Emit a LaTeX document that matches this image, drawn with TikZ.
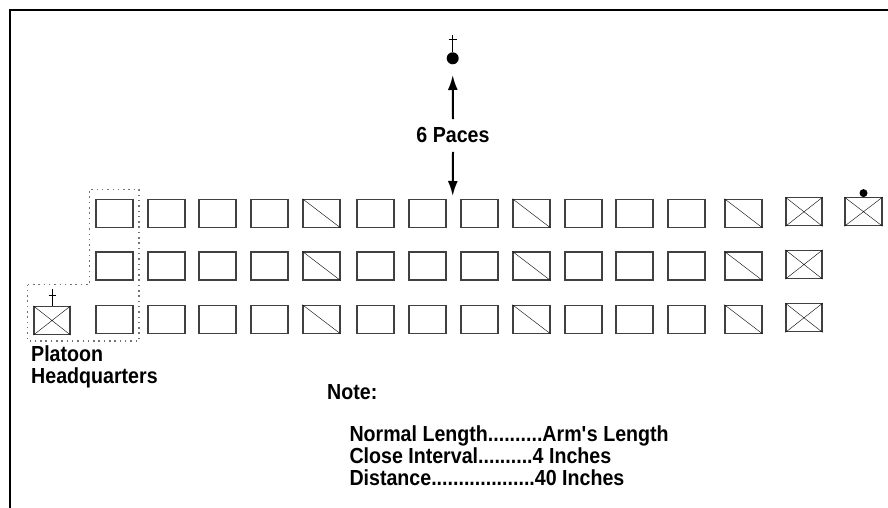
\documentclass[tikz,border=0pt]{standalone}
\usepackage{fontspec}
\setmainfont{Liberation Sans}[FakeStretch=0.9,BoldFeatures={FakeStretch=0.9}]
\usetikzlibrary{arrows.meta,positioning}
\tikzset{
  man/.style={draw=black!75, line width=1.2pt, minimum width=37pt, minimum height=28pt, inner sep=0pt},
  label/.style={font=\fontsize{21.8}{21.7}\selectfont\bfseries, inner sep=0pt, align=left}
}
\begin{document}
\begin{tikzpicture}[x=1pt,y=-1pt]
\useasboundingbox (0,0) rectangle (888,508);
\draw [line width=2pt] (888,10) -- (10,10) -- (10,508);

% ranks of the platoon
\foreach \r/\y in {1/213.3,2/266,3/319.3} {
  \foreach \c/\x in {1/114.5,2/166.5,3/217.5,4/269.5,5/321.5,6/375.5,7/427.5,8/479.5,9/531.5,10/583.5,11/634.5,12/686.5,13/743.5} {
    \node [man] (m\r\c) at (\x,\y) {};
  }
  \node [man, minimum width=36pt] (m\r14) at (804,\y-1.5) {};
  \draw (m\r5.north west) -- (m\r5.south east);
  \draw (m\r9.north west) -- (m\r9.south east);
  \draw (m\r13.north west) -- (m\r13.south east);
  \draw (m\r14.north west) -- (m\r14.south east) (m\r14.south west) -- (m\r14.north east);
}

% guide on the right
\node [man, minimum width=37pt] (guide) at (863.5,211.7) {};
\draw (guide.north west) -- (guide.south east) (guide.south west) -- (guide.north east);
\fill (guide.north) ++(0,-4) circle (4);

% platoon headquarters
\node [man, minimum width=36pt] (hq) at (52,320.5) {};
\draw (hq.north west) -- (hq.south east) (hq.south west) -- (hq.north east);
\draw [line width=1pt] (hq.north) -- ([yshift=17pt]hq.north);
\draw [line width=1pt] ([xshift=-3.5pt,yshift=10pt]hq.north) -- ([xshift=3.5pt,yshift=10pt]hq.north);
\draw [black!55, line width=1.5pt, dash pattern=on 1.5pt off 3.8pt] (27.7,284.7) -- (89.3,284.7) -- (89.3,189.3) -- (139,189.3) -- (139,341) -- (27.7,341) -- cycle;

% platoon leader
\fill (452.7,58.3) circle (6) coordinate (pl);
\draw [line width=1pt] (452.7,52) -- (452.7,35);
\draw [line width=1pt] (448.5,39.5) -- (457,39.5);
\node [label] (paces) at (453,135) {6 Paces};
\draw [line width=2pt, -{Latex[length=15pt,width=10pt]}] ([yshift=8pt]paces.north) -- (452.7,75);
\draw [line width=2pt, -{Latex[length=15pt,width=10pt]}] ([yshift=-9pt]paces.south) -- (452.7,196);

% texts
\node [label, anchor=base west] (hqtext) at (31,383.3) {Platoon\\Headquarters};
\node [label, anchor=base west] (note) at (327,399.3) {Note:};
\node [label, anchor=base west] (legend) at (349.3,485) {Normal Length..........Arm\textquotesingle s Length\\Close Interval..........4 Inches\\Distance...................40 Inches};
\end{tikzpicture}
\end{document}
